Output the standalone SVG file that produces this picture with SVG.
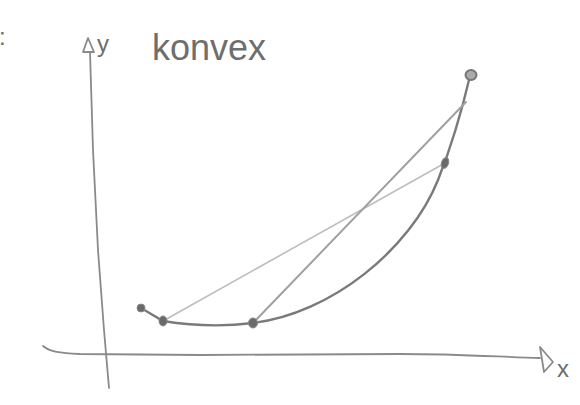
<svg xmlns="http://www.w3.org/2000/svg" width="580" height="405" viewBox="0 0 580 405">
<style>
.ax{fill:none;stroke:#8a8a8a;stroke-width:1.8;stroke-linecap:round;stroke-linejoin:round}
.cv{fill:none;stroke:#7a7a7a;stroke-width:2.4;stroke-linecap:round}
.ch1{fill:none;stroke:#bdbdbd;stroke-width:1.6;stroke-linecap:round}
.ch2{fill:none;stroke:#a0a0a0;stroke-width:2;stroke-linecap:round}
.dot{fill:#6a6a6a;stroke:#888;stroke-width:1}
.t{font-family:"Liberation Sans",Arial,sans-serif;fill:#6e6e6e}
</style>
<rect width="580" height="405" fill="#fff"/>
<text class="t" x="-1" y="45" font-size="24">:</text>
<g id="axes">
<path class="ax" d="M90,52 L93,150 L98,250 L104,330 L109,388"/>
<path class="ax" d="M88,38 L83,52 L94,52 Z"/>
<path class="ax" d="M43,346 C50,352 60,353 80,354 L200,355 L400,354 C460,354 500,357 540,358"/>
<path class="ax" d="M540,347 L553,362 L544,372 Z"/>
</g>
<text class="t" x="97" y="52" font-size="24">y</text>
<text class="t" x="152" y="60" font-size="36">konvex</text>
<text class="t" x="557" y="377" font-size="24">x</text>
<g id="connectors">
<path class="cv" d="M141,308 L163,321 C200,327 230,326 253,323 C330,314 410,250 438,180 C452,145 462,110 470,76"/>
<path class="ch1" d="M163,321 L445,163"/>
<path class="ch2" d="M253,323 L466,102"/>
</g>
<g id="p0"><circle class="dot" cx="141" cy="308" r="4"/></g>
<g id="p1"><ellipse class="dot" cx="163" cy="321" rx="4" ry="5"/></g>
<g id="p2"><ellipse class="dot" cx="253" cy="323" rx="4.5" ry="5"/></g>
<g id="p3"><ellipse class="dot" cx="445" cy="163" rx="3.5" ry="5.5" transform="rotate(20 445 163)"/></g>
<g id="p4"><ellipse cx="471" cy="75" rx="5.5" ry="5" fill="#aaa" stroke="#777" stroke-width="2"/></g>
</svg>
